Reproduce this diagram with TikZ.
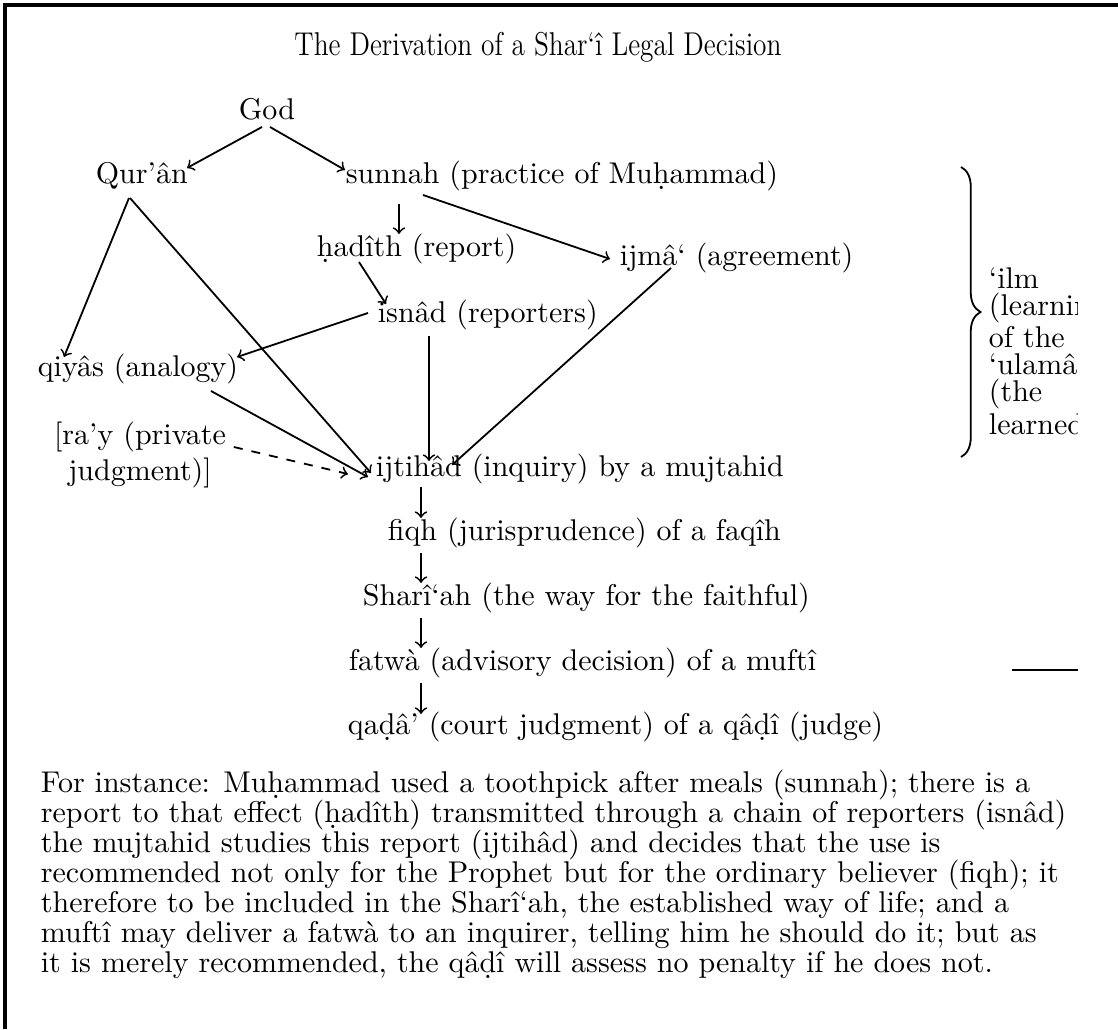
\documentclass[tikz,border=0pt]{standalone}
\usepackage{fontspec}
\usetikzlibrary{calc,decorations.pathreplacing}

\begin{document}
\begin{tikzpicture}[x=0.3333pt, y=-0.3333pt, line width=0.6pt,
    lbl/.style={inner sep=0pt, anchor=base west},
    arr/.style={->, >=to}]

    \useasboundingbox (0,0) rectangle (1118,1029);

    % frame
    \draw[line width=1.4pt] (5,1029) -- (5,5) -- (1118,5);

    % title
    \node[inner sep=0pt, anchor=base, font=\fontsize{11}{13}\selectfont] (title) at (538,56) {\scalebox{0.83}[1]{The Derivation of a Shar‘î Legal Decision}};

    % sources
    \node[lbl] (god) at (238,120) {God};
    \node[lbl] (quran) at (95,184) {Qur’ân};
    \node[lbl] (sunnah) at (345,184) {sunnah (practice of Muḥammad)};
    \node[lbl] (hadith) at (316,256) {ḥadîth (report)};
    \node[lbl] (ijma) at (619,265) {ijmâ‘ (agreement)};
    \node[lbl] (isnad) at (377,322) {isnâd (reporters)};
    \node[lbl] (qiyas) at (37,376) {qiyâs (analogy)};
    \node[inner sep=0pt, align=center, anchor=north] (ray) at (140,421) {[ra’y (private\\judgment)]};

    % chain
    \node[lbl] (ijtihad) at (375,476) {ijtihâd (inquiry) by a mujtahid};
    \node[lbl] (fiqh) at (387,540) {fiqh (jurisprudence) of a faqîh};
    \node[lbl] (sharia) at (362,605) {Sharî‘ah (the way for the faithful)};
    \node[lbl] (fatwa) at (348,670) {fatwà (advisory decision) of a muftî};
    \node[lbl] (qada) at (347,734) {qaḍâ’ (court judgment) of a qâḍî (judge)};

    % God
    \draw[arr] ($(god.base west)+(24,7)$) -- ($(quran.base west)+(92,-16)$);
    \draw[arr] ($(god.base west)+(32,7)$) -- ($(sunnah.base west)+(0,-14)$);

    % sunnah
    \draw[arr] ($(sunnah.base west)+(54,20)$) -- ($(hadith.base west)+(83,-22)$);
    \draw[arr] ($(sunnah.base west)+(78,11)$) -- ($(ijma.base west)+(-9,-6)$);
    \draw[arr] ($(hadith.base west)+(43,6)$) -- ($(isnad.base west)+(9,-18)$);

    % into qiyas
    \draw[arr] ($(quran.base west)+(34,14)$) -- ($(qiyas.base west)+(27,-19)$);
    \draw[arr] ($(isnad.base west)+(-9,-9)$) -- ($(qiyas.base west)+(200,-19)$);

    % into ijtihad
    \draw[arr] ($(quran.base west)+(35,14)$) -- ($(ijtihad.base west)+(-4,-3)$);
    \draw[arr] ($(isnad.base west)+(52,14)$) -- ($(ijtihad.base west)+(54,-15)$);
    \draw[arr] ($(ijma.base west)+(52,3)$) -- ($(ijtihad.base west)+(77,-11)$);
    \draw[arr] ($(qiyas.base west)+(174,15)$) -- ($(ijtihad.base west)+(-7,1)$);
    \draw[arr, dashed] ($(ray.north east)+(7,26)$) -- ($(ijtihad.base west)+(-27,-2)$);

    % down the chain
    \draw[arr] ($(ijtihad.base west)+(46,11)$) -- ($(fiqh.base west)+(34,-22)$);
    \draw[arr] ($(fiqh.base west)+(34,13)$) -- ($(sharia.base west)+(59,-22)$);
    \draw[arr] ($(sharia.base west)+(59,13)$) -- ($(fatwa.base west)+(73,-22)$);
    \draw[arr] ($(fatwa.base west)+(73,13)$) -- ($(qada.base west)+(74,-20)$);

    % brace
    \draw[decorate, decoration={brace, amplitude=6.5pt}] (961,167) -- (961,457);
    \begin{scope}
        \clip (940,150) rectangle (1077,480);
        \node[inner sep=0pt, anchor=north west, align=left, font=\fontsize{10}{9}\selectfont] (ilm) at (988,267) {‘ilm\\(learning\\of the\\‘ulamâ\\(the\\learned)};
    \end{scope}

    \draw (1012,670) -- (1078,670);

    % example
    \node[inner sep=0pt, anchor=north west, align=left, font=\fontsize{10}{10}\selectfont] (note) at (40,769) {For instance: Muḥammad used a toothpick after meals (sunnah); there is a\\
report to that effect (ḥadîth) transmitted through a chain of reporters (isnâd)\\
the mujtahid studies this report (ijtihâd) and decides that the use is\\
recommended not only for the Prophet but for the ordinary believer (fiqh); it\\
therefore to be included in the Sharî‘ah, the established way of life; and a\\
muftî may deliver a fatwà to an inquirer, telling him he should do it; but as\\
it is merely recommended, the qâḍî will assess no penalty if he does not.};

\end{tikzpicture}
\end{document}
